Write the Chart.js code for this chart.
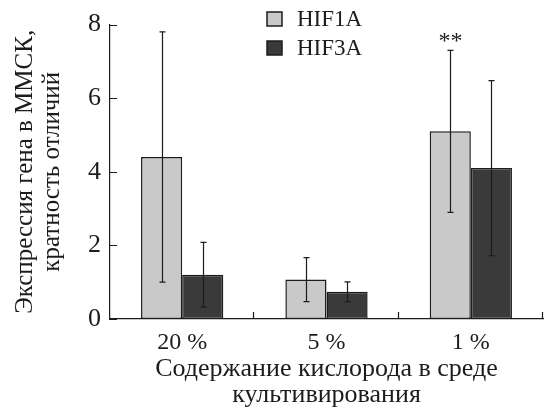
<!DOCTYPE html>
<html>
<head>
<meta charset="utf-8">
<script src="https://cdn.jsdelivr.net/npm/chart.js@4/dist/chart.umd.min.js"></script>
<style>
  html, body { margin: 0; padding: 0; background: #fff; }
  #wrap { width: 547px; height: 409px; }
</style>
</head>
<body>
<div id="wrap"><canvas id="c" width="547" height="409"></canvas></div>
<script>
// Oxygen levels of the culture medium
const categories = ['20 %', '5 %', '1 %'];
const seriesNames = ['HIF1A', 'HIF3A'];
// Fold change of expression (mean) and error bar half-widths
const hif1aMean = [4.4, 1.07, 5.1];
const hif1aErr  = [3.4, 0.6, 2.2];
const hif3aMean = [1.2, 0.74, 4.1];
const hif3aErr  = [0.88, 0.27, 2.38];
// Significance marks above HIF1A bars
const hif1aMarks = ['', '', '**'];
const hif3aMarks = ['', '', ''];
const yTickValues = [0, 2, 4, 6, 8];

const SERIF = '"Liberation Serif", "DejaVu Serif", serif';
const INK = '#1c1c1c';
const colors = ['#c9c9c9', '#3a3a3a'];
const errors = [hif1aErr, hif3aErr];
const marks = [hif1aMarks, hif3aMarks];

// Tick marks pointing into the plot area
const innerTicks = {
  id: 'innerTicks',
  afterDraw(chart) {
    const { ctx, chartArea: a, scales: { x, y } } = chart;
    ctx.save();
    ctx.strokeStyle = INK;
    ctx.lineWidth = 1.2;
    ctx.beginPath();
    yTickValues.forEach(v => {
      const py = Math.round(y.getPixelForValue(v)) + 0.5;
      ctx.moveTo(a.left, py);
      ctx.lineTo(a.left + 7, py);
    });
    const step = x.getPixelForValue(1) - x.getPixelForValue(0);
    categories.forEach((c, i) => {
      const px = Math.round(x.getPixelForValue(i) + step / 2) - 0.5;
      ctx.moveTo(px, a.bottom);
      ctx.lineTo(px, a.bottom - 7);
    });
    ctx.stroke();
    ctx.restore();
  }
};

// Error bars and significance marks
const errorBars = {
  id: 'errorBars',
  afterDatasetsDraw(chart) {
    const { ctx, scales: { y } } = chart;
    ctx.save();
    chart.data.datasets.forEach((ds, di) => {
      const meta = chart.getDatasetMeta(di);
      meta.data.forEach((bar, i) => {
        const v = ds.data[i];
        const e = errors[di][i];
        const top = y.getPixelForValue(v + e);
        const bot = y.getPixelForValue(Math.max(0, v - e));
        const cx = Math.round(bar.x) + 0.5;
        ctx.strokeStyle = INK;
        ctx.lineWidth = 1.2;
        ctx.beginPath();
        ctx.moveTo(cx, top); ctx.lineTo(cx, bot);
        ctx.moveTo(cx - 3, top); ctx.lineTo(cx + 3, top);
        ctx.moveTo(cx - 3, bot); ctx.lineTo(cx + 3, bot);
        ctx.stroke();
        const m = marks[di][i];
        if (m) {
          ctx.fillStyle = INK;
          ctx.font = '24px ' + SERIF;
          ctx.textAlign = 'center';
          ctx.textBaseline = 'alphabetic';
          ctx.fillText(m, cx, top - 2);
        }
      });
    });
    ctx.restore();
  }
};

// Legend with square swatches inside the plot
const boxLegend = {
  id: 'boxLegend',
  afterDraw(chart) {
    const { ctx } = chart;
    ctx.save();
    chart.data.datasets.forEach((ds, di) => {
      const top = 12 + di * 29;
      ctx.fillStyle = ds.backgroundColor;
      ctx.fillRect(267, top, 15, 14);
      ctx.strokeStyle = INK;
      ctx.lineWidth = 1.5;
      ctx.strokeRect(267, top, 15, 14);
      ctx.fillStyle = INK;
      ctx.font = '23px ' + SERIF;
      ctx.textAlign = 'left';
      ctx.textBaseline = 'alphabetic';
      ctx.fillText(ds.label, 297, top + 14);
    });
    ctx.restore();
  }
};

new Chart(document.getElementById('c'), {
  type: 'bar',
  data: {
    labels: categories,
    datasets: [
      { label: seriesNames[0], data: hif1aMean, backgroundColor: colors[0] },
      { label: seriesNames[1], data: hif3aMean, backgroundColor: colors[1] }
    ]
  },
  options: {
    responsive: false,
    animation: false,
    devicePixelRatio: 1,
    layout: { padding: { top: 22, right: 4, left: 0, bottom: 0 } },
    datasets: {
      bar: {
        barPercentage: 1.0,
        categoryPercentage: 0.57,
        borderColor: INK,
        borderWidth: 1.5,
        borderSkipped: false
      }
    },
    plugins: {
      legend: { display: false },
      tooltip: { enabled: false }
    },
    scales: {
      x: {
        offset: true,
        grid: { display: false, drawTicks: false },
        border: { display: true, color: INK, width: 1.2 },
        ticks: { color: INK, padding: 9, font: { family: SERIF, size: 24 } },
        title: {
          display: true,
          text: ['Содержание кислорода в среде', 'культивирования'],
          color: INK,
          font: { family: SERIF, size: 26, lineHeight: 1.0 },
          padding: { top: 0, bottom: 1 }
        },
        afterFit(scale) { scale.height = 90; }
      },
      y: {
        min: 0,
        max: 8,
        grid: { display: false, drawTicks: false },
        border: { display: true, color: INK, width: 1.2 },
        ticks: {
          stepSize: 2,
          color: INK,
          padding: 9,
          font: { family: SERIF, size: 26 }
        },
        title: {
          display: true,
          text: ['Экспрессия гена в ММСК,', 'кратность отличий'],
          color: INK,
          font: { family: SERIF, size: 25, lineHeight: '27px' },
          padding: { top: 12, bottom: 0 }
        },
        afterFit(scale) { scale.width = 110; }
      }
    }
  },
  plugins: [innerTicks, errorBars, boxLegend]
});
</script>
</body>
</html>
